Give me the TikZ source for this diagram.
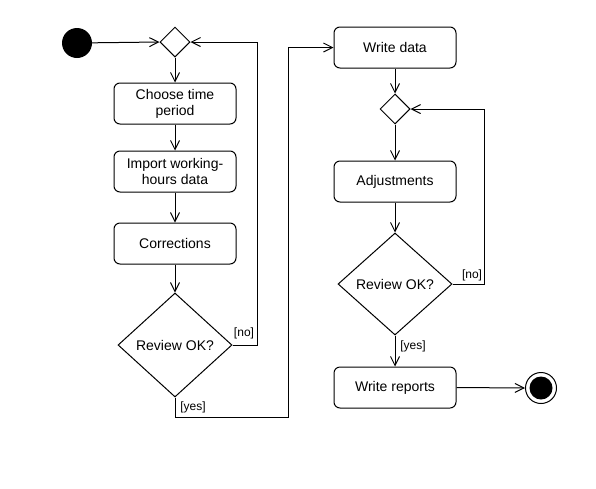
\documentclass[tikz,border=0pt]{standalone}
\usepackage{fontspec}
\setmainfont{Liberation Sans}
\usetikzlibrary{shapes.geometric,arrows.meta}
\begin{document}
\begin{tikzpicture}[x=1pt,y=-1pt,
  every node/.style={font=\fontsize{14}{16}\selectfont},
  act/.style={draw,line width=1pt,rounded corners=6pt,minimum width=122pt,minimum height=41pt,inner sep=0pt,align=center},
  dec/.style={draw,line width=1pt,diamond,inner sep=0pt,align=center},
  guard/.style={font=\fontsize{12}{14}\selectfont,inner sep=0pt},
  arr/.style={draw,line width=1pt,-{Straight Barb[length=9pt,width=9pt,line width=1pt]}},
  ln/.style={draw,line width=1pt}]
\useasboundingbox (0,0) rectangle (596,488);
\node[circle,fill=black,minimum size=30pt,inner sep=0pt] (start) at (77,43) {};
\node[dec,minimum width=30pt,minimum height=30pt] (d1) at (175,42) {};
\node[act] (choose) at (175,103.5) {Choose time\\period};
\node[act] (import) at (175,171.5) {Import working-\\hours data};
\node[act] (corr) at (175,243.5) {Corrections};
\node[dec,minimum width=114pt,minimum height=104pt] (rev1) at (175,345) {Review OK?};
\node[act] (wd) at (395,47.5) {Write data};
\node[dec,minimum width=30pt,minimum height=30pt] (d2) at (395,109) {};
\node[act] (adj) at (395,181.5) {Adjustments};
\node[dec,minimum width=114pt,minimum height=102pt] (rev2) at (395,284) {Review OK?};
\node[act] (wr) at (395,387.5) {Write reports};
\node[circle,draw,line width=1pt,minimum size=31pt,inner sep=0pt] (end) at (541,388) {};
\node[circle,fill=black,minimum size=23pt,inner sep=0pt] (endin) at (541,388) {};
\coordinate (n1) at (257,42);
\coordinate (y1) at (288,417);
\coordinate (n2) at (484,109);
\path[arr] (start) -- (d1.west);
\path[arr] (d1.south) -- (choose.north);
\path[arr] (choose.south) -- (import.north);
\path[arr] (import.south) -- (corr.north);
\path[arr] (corr.south) -- (rev1.north);
\path[arr] (rev1.east) -| (n1) -- (d1.east);
\path[arr] (rev1.south) |- (y1) |- (wd.west);
\path[arr] (wd.south) -- (d2.north);
\path[arr] (d2.south) -- (adj.north);
\path[arr] (adj.south) -- (rev2.north);
\path[arr] (rev2.east) -| (n2) -- (d2.east);
\path[arr] (rev2.south) -- (wr.north);
\path[arr] (wr.east) -- (end.west);
\node[guard] (no1) at (244,333) {[no]};
\node[guard] (yes1) at (193,407) {[yes]};
\node[guard] (no2) at (472,275) {[no]};
\node[guard] (yes2) at (413,346) {[yes]};
\end{tikzpicture}
\end{document}
